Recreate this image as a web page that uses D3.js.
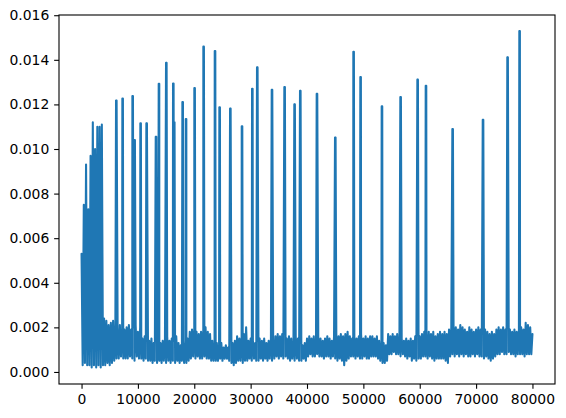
<!DOCTYPE html>
<html>
<head>
<meta charset="utf-8">
<script src="https://cdn.jsdelivr.net/npm/d3@7"></script>
<style>
  body { margin: 0; background: #fff; }
  svg { display: block; }
  .tick text { font-family: "DejaVu Sans", sans-serif; font-size: 13.9px; fill: #000; }
</style>
</head>
<body>
<svg width="566" height="418"></svg>
<script>
// sample spacing of the baseline series (x units per sample)
const sampleStep = 200;

// baseline values, in units of 1e-4, one row per 4000 x-units
const baseValues = [
    53, 3, 75, 4, 93, 3, 73, 3, 97, 2, 112, 3, 100, 2, 110, 3, 110, 2, 111, 3,
    24, 3, 23, 4, 21, 3, 22, 4, 23, 5, 20, 6, 19, 6, 21, 7, 19, 6, 19, 6,
    20, 6, 21, 7, 19, 6, 20, 5, 21, 7, 18, 6, 20, 6, 15, 5, 16, 6, 14, 5,
    14, 5, 15, 4, 13, 5, 14, 4, 15, 5, 13, 4, 14, 5, 15, 4, 16, 5, 14, 4,
    15, 5, 14, 4, 16, 5, 13, 4, 12, 5, 14, 4, 13, 4, 15, 5, 18, 6, 19, 7,
    19, 6, 18, 7, 17, 6, 18, 6, 19, 7, 20, 6, 18, 6, 17, 5, 14, 5, 13, 5,
    13, 5, 12, 6, 13, 5, 11, 6, 12, 6, 11, 5, 14, 4, 13, 3, 14, 4, 16, 5,
    15, 5, 16, 4, 17, 5, 20, 5, 14, 6, 15, 5, 14, 6, 13, 5, 14, 5, 15, 6,
    14, 5, 15, 6, 13, 5, 14, 6, 15, 5, 14, 6, 16, 7, 17, 6, 16, 7, 17, 6,
    17, 7, 15, 6, 16, 5, 15, 6, 14, 5, 16, 6, 15, 5, 13, 5, 12, 6, 13, 5,
    15, 7, 16, 8, 15, 7, 16, 7, 15, 8, 16, 7, 15, 7, 14, 6, 15, 7, 16, 7,
    15, 6, 14, 7, 16, 6, 17, 5, 16, 6, 17, 5, 16, 3, 17, 5, 18, 6, 16, 7,
    15, 7, 16, 6, 15, 7, 16, 6, 17, 6, 15, 7, 16, 6, 15, 6, 16, 7, 16, 7,
    15, 7, 16, 6, 14, 5, 12, 4, 13, 4, 12, 5, 17, 8, 16, 8, 17, 9, 16, 8,
    17, 8, 14, 7, 15, 8, 14, 7, 15, 6, 14, 7, 15, 5, 14, 6, 16, 5, 17, 6,
    16, 6, 17, 7, 18, 7, 17, 6, 18, 7, 17, 6, 18, 5, 16, 6, 17, 6, 18, 6,
    17, 6, 18, 5, 17, 4, 19, 7, 20, 8, 21, 7, 20, 8, 19, 7, 21, 8, 20, 7,
    19, 8, 18, 7, 20, 7, 19, 8, 18, 7, 19, 8, 20, 7, 19, 7, 18, 6, 19, 7,
    18, 6, 17, 5, 18, 6, 17, 7, 19, 8, 20, 8, 19, 9, 20, 8, 19, 8, 20, 9,
    19, 8, 18, 8, 19, 7, 18, 8, 19, 8, 20, 8, 19, 7, 22, 8, 21, 8, 20, 8,
    17
];

// isolated spikes: start x, value (1e-4 units); each spike lasts spikeDuration x-units
const spikeDuration = 100;
const spikeX = [6120, 7240, 9020, 9370, 10430, 11500, 13160, 13690, 14990, 16230,
    16400, 17890, 18490, 20010, 21610, 23630, 24450, 26350, 28420, 30250,
    31130, 33740, 35980, 37750, 38760, 41720, 44970, 48220, 49460, 53250,
    56560, 59580, 61060, 65790, 71180, 75540, 77670];
const spikeY = [121.7, 122.6, 123.8, 104, 111.5, 111.5, 105.5, 129.3, 138.7, 129.4,
    112, 121.1, 113.4, 127.3, 145.9, 143.9, 118.7, 118.2, 110.2, 127,
    136.6, 126.6, 127.8, 120, 126.1, 124.8, 105.1, 143.6, 132.3, 119.1,
    123.3, 131.1, 128.4, 109, 113.1, 141.1, 152.9];

const xTicks = [0, 10000, 20000, 30000, 40000, 50000, 60000, 70000, 80000];
const yTicks = [0, 0.002, 0.004, 0.006, 0.008, 0.010, 0.012, 0.014, 0.016];

const svg = d3.select("svg");
const margin = {left: 59, top: 15, right: 11, bottom: 34};
const width = 566 - margin.left - margin.right;
const height = 418 - margin.top - margin.bottom;

const xScale = d3.scaleLinear().domain([-4000, 84000]).range([0, width]);
const yScale = d3.scaleLinear().domain([-0.00054, 0.01601]).range([height, 0]);

let series = baseValues.map(function (v, i) { return [i * sampleStep, v * 1e-4]; });
for (let i = 0; i < spikeX.length; i++) {
    series.push([spikeX[i], spikeY[i] * 1e-4]);
    series.push([spikeX[i] + spikeDuration, spikeY[i] * 1e-4]);
}
series.sort(function (a, b) { return a[0] - b[0]; });

const g = svg.append("g")
    .attr("transform", "translate(" + margin.left + "," + margin.top + ")");

svg.append("clipPath").attr("id", "plotclip")
    .append("rect").attr("width", width).attr("height", height);

// one subpath per segment so the dense zigzag strokes never cancel out
const line = d3.line()
    .x(function (d) { return xScale(d[0]); })
    .y(function (d) { return yScale(d[1]); });
const segments = d3.pairs(series).map(function (p) { return line(p); }).join("");

g.append("path")
    .attr("clip-path", "url(#plotclip)")
    .attr("fill", "none")
    .attr("stroke", "#1f77b4")
    .attr("stroke-width", 2.08)
    .attr("stroke-linecap", "round")
    .attr("stroke-linejoin", "round")
    .attr("d", segments);

const tickLen = 4.86;

const xAxis = g.append("g")
    .attr("transform", "translate(0," + height + ")")
    .call(d3.axisBottom(xScale).tickValues(xTicks).tickFormat(d3.format("d"))
        .tickSize(tickLen).tickPadding(4.86).tickSizeOuter(0));

const yAxis = g.append("g")
    .call(d3.axisLeft(yScale).tickValues(yTicks).tickFormat(d3.format(".3f"))
        .tickSize(tickLen).tickPadding(4.86).tickSizeOuter(0));

[xAxis, yAxis].forEach(function (a) {
    a.select(".domain").remove();
    a.selectAll(".tick line").attr("stroke", "#000").attr("stroke-width", 1.1);
    a.attr("font-family", null).attr("font-size", null);
});

g.append("rect")
    .attr("width", width)
    .attr("height", height)
    .attr("fill", "none")
    .attr("stroke", "#000")
    .attr("stroke-width", 1.1);
</script>
</body>
</html>
